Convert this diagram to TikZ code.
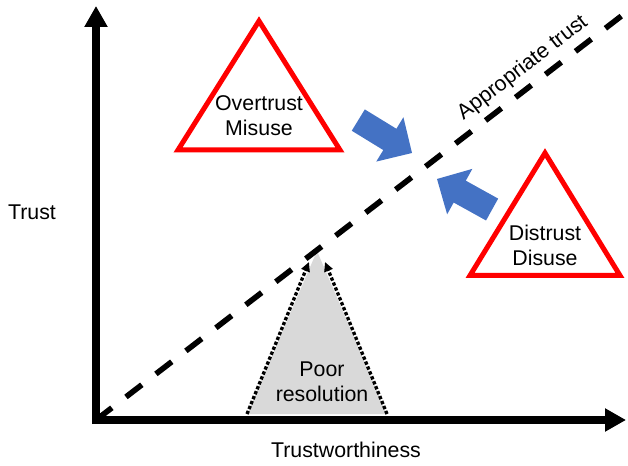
\documentclass[tikz,border=0pt]{standalone}
\usepackage{fontspec}
\setmainfont{Liberation Sans}
\usetikzlibrary{arrows.meta}
\definecolor{arrowblue}{HTML}{4472C4}
\definecolor{fillgray}{HTML}{D9D9D9}
\begin{document}
\begin{tikzpicture}[x=0.75pt,y=-0.75pt,
  lbl/.style={font=\fontsize{16}{18.75}\selectfont, align=center, inner sep=0pt},
  axisline/.style={line width=6pt, -{Triangle[length=15.75pt,width=16.5pt]}},
  warn/.style={draw=red, line width=3.75pt, line join=miter},
  trustline/.style={line width=4.2pt, dash pattern=on 15pt off 13.35pt},
  resarrow/.style={line width=2.5pt, dash pattern=on 2.5pt off 1.5pt, -{Triangle[length=7pt,width=6.5pt]}},
  blockarrow/.pic={\fill[arrowblue] (0,0) -- (-26,26) -- (-26,12.5) -- (-63,12.5) -- (-63,-12.5) -- (-26,-12.5) -- (-26,-26) -- cycle;}
]
\useasboundingbox (0,0) rectangle (628,466);

% coordinates
\coordinate (O) at (96,420);
\coordinate (vstart) at (96,424);
\coordinate (hstart) at (92,420);
\coordinate (ytip) at (96,6);
\coordinate (xtip) at (626,420);
\coordinate (dend) at (624,14);
\coordinate (gl) at (247,414);
\coordinate (gr) at (387,414);
\coordinate (gapex) at (317,251);
\coordinate (tl) at (309,262);
\coordinate (tr) at (325,262);

% poor resolution region
\fill[fillgray] (gl) -- (gapex) -- (gr) -- cycle;
\draw[resarrow] (gl) -- (tl);
\draw[resarrow] (gr) -- (tr);
\node[lbl] (poor) at (322,382) {Poor\\resolution};

% appropriate trust line
\draw[trustline] (O) -- node[pos=0.83, sloped, above, lbl, inner sep=4.5pt] (approp) {Appropriate trust} (dend);

% axes
\draw[axisline] (vstart) -- (ytip);
\draw[axisline] (hstart) -- (xtip);
\node[lbl] (ylab) at (32,212) {Trust};
\node[lbl] (xlab) at (346,450) {Trustworthiness};

% warning triangles
\coordinate (a1) at (259,21);
\coordinate (b1) at (178,150);
\coordinate (c1) at (340,150);
\draw[warn] (a1) -- (b1) -- (c1) -- cycle;
\node[lbl] (over) at (259,115.5) {Overtrust\\Misuse};

\coordinate (a2) at (545,153);
\coordinate (b2) at (470,275.5);
\coordinate (c2) at (620,275.5);
\draw[warn] (a2) -- (b2) -- (c2) -- cycle;
\node[lbl] (dis) at (545,245) {Distrust\\Disuse};

% blue block arrows
\pic[rotate=-31.5] at (412,153) {blockarrow};
\pic[rotate=151] at (437,179) {blockarrow};
\end{tikzpicture}
\end{document}
